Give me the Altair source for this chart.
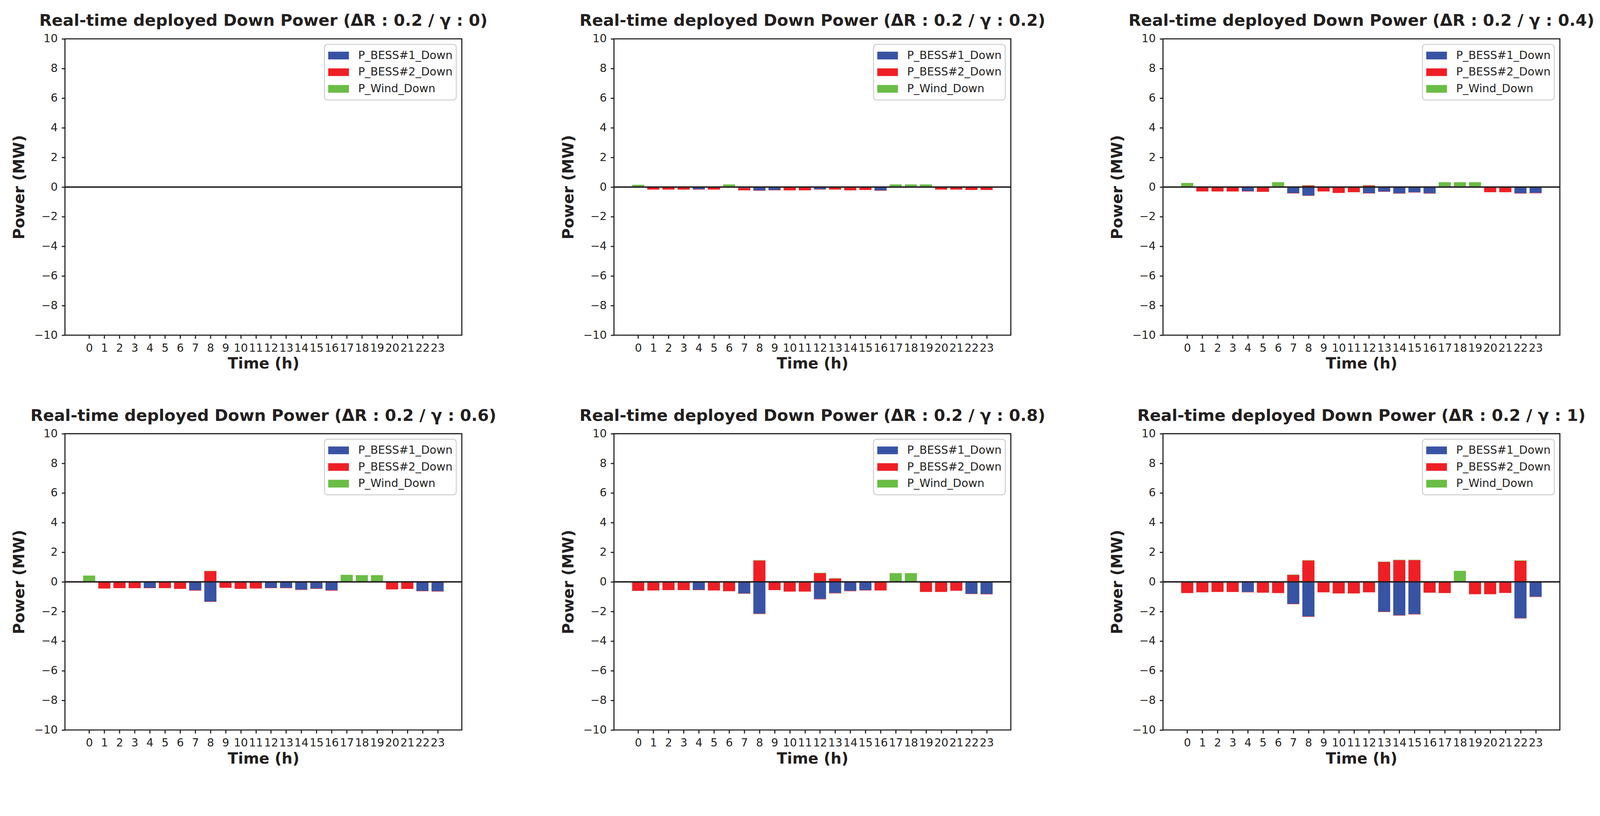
import altair as alt
import pandas as pd

HOURS = list(range(24))
SERIES = ["P_BESS#1_Down", "P_BESS#2_Down", "P_Wind_Down"]
COLORS = ["#3953a4", "#ee1f25", "#6abd45"]
GAMMAS = ["0", "0.2", "0.4", "0.6", "0.8", "1"]

# ---- gamma = 0 ----
B1_G0 = [0] * 24
B2N_G0 = [0] * 24
B2P_G0 = [0] * 24
W_G0 = [0] * 24

# ---- gamma = 0.2 ----
B1_G02 = [0, 0, 0, 0, -0.15, 0, 0, -0.075, -0.225, -0.2, 0, 0,
          -0.15, 0, 0, 0, -0.225, 0, 0, 0, 0, 0, 0, 0]
B2N_G02 = [0, -0.175, -0.175, -0.175, -0.025, -0.175, 0, -0.15, -0.025, -0.025, -0.225, -0.225,
           -0.025, -0.175, -0.225, -0.2, -0.025, 0, 0, 0, -0.175, -0.175, -0.2, -0.2]
B2P_G02 = [0] * 24
W_G02 = [0.15, 0, 0, 0, 0, 0, 0.175, 0, 0, 0, 0, 0,
         0, 0, 0, 0, 0, 0.175, 0.175, 0.175, 0, 0, 0, 0]

# ---- gamma = 0.4 ----
B1_G04 = [0, 0, 0, 0, -0.275, 0, 0, -0.408, -0.575, 0, 0, 0,
          -0.408, -0.30, -0.425, -0.35, -0.425, 0, 0, 0, 0, 0, -0.42, -0.40]
B2N_G04 = [0, -0.30, -0.30, -0.30, -0.025, -0.325, 0, -0.025, -0.025, -0.30, -0.40, -0.35,
           -0.025, -0.025, -0.025, -0.025, -0.025, 0, 0, 0, -0.35, -0.35, -0.025, -0.025]
B2P_G04 = [0, 0, 0, 0, 0, 0, 0, 0, 0.10, 0, 0, 0,
           0.10, 0, 0, 0, 0, 0, 0, 0, 0, 0, 0, 0]
W_G04 = [0.275, 0, 0, 0, 0, 0, 0.325, 0, 0.025, 0, 0, 0,
         0.025, 0, 0, 0, 0, 0.325, 0.325, 0.325, 0, 0, 0, 0]

# ---- gamma = 0.6 ----
B1_G06 = [0, 0, 0, 0, -0.40, 0, 0, -0.567, -1.325, 0, 0, 0,
          -0.40, -0.40, -0.525, -0.45, -0.567, 0, 0, 0, 0, 0, -0.617, -0.633]
B2N_G06 = [0, -0.45, -0.425, -0.425, -0.025, -0.425, -0.475, -0.033, -0.025, -0.40, -0.475, -0.45,
           -0.025, -0.025, -0.025, -0.025, -0.033, 0, 0, 0, -0.51, -0.48, -0.02, -0.025]
B2P_G06 = [0, 0, 0, 0, 0, 0, 0, 0, 0.725, 0, 0, 0,
           0, 0, 0, 0, 0, 0, 0, 0, 0, 0, 0, 0]
W_G06 = [0.425, 0, 0, 0, 0, 0, 0, 0, 0.025, 0, 0, 0,
         0, 0, 0, 0, 0, 0.475, 0.45, 0.45, 0, 0, 0, 0]

# ---- gamma = 0.8 ----
B1_G08 = [0, 0, 0, 0, -0.533, 0, 0, -0.783, -2.15, 0, 0, 0,
          -1.158, -0.758, -0.608, -0.558, 0, 0, 0, 0, 0, 0, -0.80, -0.82]
B2N_G08 = [-0.61, -0.583, -0.558, -0.558, -0.025, -0.583, -0.633, -0.025, -0.025, -0.558, -0.658, -0.658,
           -0.025, -0.025, -0.025, -0.025, -0.583, 0, 0, -0.683, -0.683, -0.60, -0.025, -0.025]
B2P_G08 = [0, 0, 0, 0, 0, 0, 0, 0, 1.44, 0, 0, 0,
           0.59, 0.225, 0, 0, 0, 0, 0, 0, 0, 0, 0, 0]
W_G08 = [0, 0, 0, 0, 0, 0, 0, 0, 0.025, 0, 0, 0,
         0.025, 0.025, 0, 0, 0, 0.59, 0.59, 0, 0, 0, 0, 0]

# ---- gamma = 1 ----
B1_G1 = [0, 0, 0, 0, -0.683, 0, 0, -1.483, -2.325, 0, 0, 0,
         0, -2.008, -2.258, -2.183, 0, 0, 0, 0, 0, 0, -2.45, -1.0]
B2N_G1 = [-0.758, -0.708, -0.683, -0.683, -0.025, -0.733, -0.758, -0.025, -0.033, -0.708, -0.783, -0.783,
          -0.708, -0.025, -0.025, -0.025, -0.733, -0.758, 0, -0.833, -0.833, -0.75, -0.025, -0.025]
B2P_G1 = [0, 0, 0, 0, 0, 0, 0, 0.467, 1.44, 0, 0, 0,
          0, 1.342, 1.467, 1.467, 0, 0, 0, 0, 0, 0, 1.42, 0]
W_G1 = [0, 0, 0, 0, 0, 0, 0, 0.025, 0.025, 0, 0, 0,
        0, 0.025, 0.025, 0.025, 0, 0, 0.742, 0, 0, 0, 0.025, 0]

PANELS = [
    (B1_G0, B2N_G0, B2P_G0, W_G0),
    (B1_G02, B2N_G02, B2P_G02, W_G02),
    (B1_G04, B2N_G04, B2P_G04, W_G04),
    (B1_G06, B2N_G06, B2P_G06, W_G06),
    (B1_G08, B2N_G08, B2P_G08, W_G08),
    (B1_G1, B2N_G1, B2P_G1, W_G1),
]

TEXT = "#231f20"
FONT = "DejaVu Sans"
RECT = "M-1,-0.37L1,-0.37L1,0.37L-1,0.37Z"


def make_df(b1, b2n, b2p, w):
    rows = []
    for h in HOURS:
        rows.append({"hour": h, "series": SERIES[0], "ord": 0, "value": b1[h]})
        rows.append({"hour": h, "series": SERIES[1], "ord": 1, "value": b2n[h]})
        rows.append({"hour": h, "series": SERIES[1], "ord": 2, "value": b2p[h]})
        rows.append({"hour": h, "series": SERIES[2], "ord": 3, "value": w[h]})
    return pd.DataFrame(rows)


def panel(gamma, arrays):
    df = make_df(*arrays)
    base = alt.Chart(df)
    bars = base.transform_stack(
        stack="value", groupby=["hour"], as_=["y0", "y1"],
        sort=[alt.SortField("ord", order="ascending")], offset="zero"
    ).transform_calculate(
        xa="datum.hour - 0.4", xb="datum.hour + 0.4"
    ).mark_bar().encode(
        x=alt.X("xa:Q", scale=alt.Scale(domain=[-1.6, 24.6], nice=False, zero=False),
                axis=alt.Axis(values=HOURS, title="Time (h)", labelOverlap=False,
                              labelFlush=False, labelPadding=11, titlePadding=8)),
        x2="xb:Q",
        y=alt.Y("y0:Q", scale=alt.Scale(domain=[-10, 10], nice=False),
                axis=alt.Axis(values=list(range(-10, 11, 2)), title="Power (MW)",
                              labelPadding=11, titlePadding=18)),
        y2="y1:Q",
        color=alt.Color("series:N",
                        scale=alt.Scale(domain=SERIES, range=COLORS),
                        legend=alt.Legend(title=None, orient="top-right", offset=15,
                                          symbolType=RECT, symbolSize=3136,
                                          symbolStrokeWidth=0, labelOffset=25,
                                          labelLimit=500,
                                          clipHeight=40, rowPadding=5, padding=10,
                                          fillColor="white", strokeColor="#d4d4d4",
                                          cornerRadius=8)),
    )
    zero = alt.Chart(pd.DataFrame({"v": [0]})).mark_rule(
        color=TEXT, strokeWidth=4
    ).encode(y="v:Q")
    title = f"Real-time deployed Down Power (\u0394R : 0.2 / \u03b3 : {gamma})"
    return alt.layer(bars, zero).properties(
        width=1072, height=800,
        title=alt.TitleParams(title, offset=11)
    )


charts = [panel(g, a) for g, a in zip(GAMMAS, PANELS)]

chart = alt.concat(
    *charts, columns=3, spacing={"row": 266, "column": 411}, bounds="flush"
).resolve_scale(color="independent").configure(
    font=FONT, padding={"left": 22, "top": -31, "right": 5, "bottom": 5}
).configure_view(
    stroke=TEXT, strokeWidth=3
).configure_axis(
    grid=False, domain=False,
    labelFont=FONT, labelFontSize=30, labelColor=TEXT,
    tickColor=TEXT, tickWidth=3, tickSize=9,
    titleFont=FONT, titleFontSize=41, titleFontWeight="bold", titleColor=TEXT,
).configure_title(
    font=FONT, fontSize=44, fontWeight="bold", color=TEXT, anchor="middle"
).configure_legend(
    labelFont=FONT, labelFontSize=30, labelColor=TEXT, strokeWidth=3
)

chart.save("out.html", embed_options={"renderer": "svg", "actions": False})
